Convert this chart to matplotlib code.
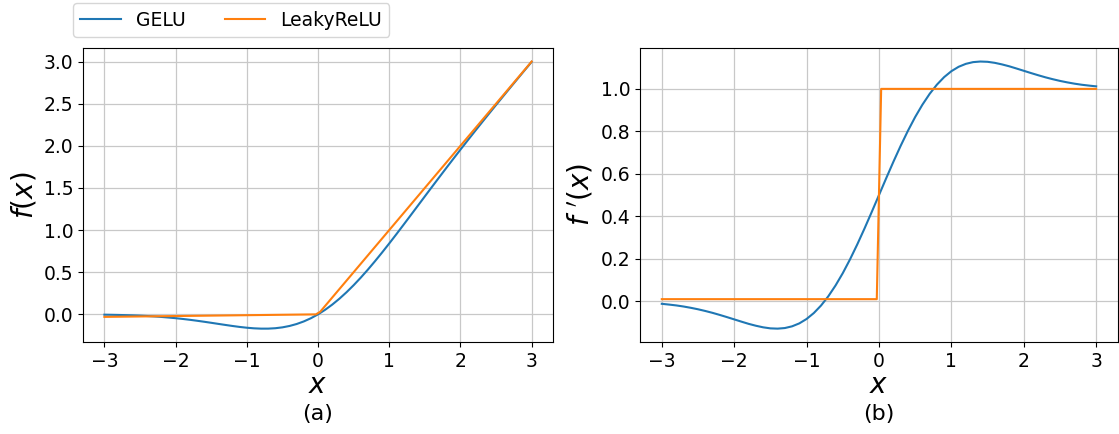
import matplotlib
matplotlib.use('Agg')
import matplotlib.pyplot as plt

# values
x_gelu = [-3.0, -2.9, -2.8, -2.7, -2.6, -2.5, -2.4, -2.3, -2.2, -2.1,
          -2.0, -1.9, -1.8, -1.7, -1.6, -1.5, -1.4, -1.3, -1.2, -1.1,
          -1.0, -0.9, -0.8, -0.7, -0.6, -0.5, -0.4, -0.3, -0.2, -0.1,
          0.0, 0.1, 0.2, 0.3, 0.4, 0.5, 0.6, 0.7, 0.8, 0.9,
          1.0, 1.1, 1.2, 1.3, 1.4, 1.5, 1.6, 1.7, 1.8, 1.9,
          2.0, 2.1, 2.2, 2.3, 2.4, 2.5, 2.6, 2.7, 2.8, 2.9, 3.0]
gelu = [-0.0040, -0.0055, -0.0072, -0.0095, -0.0122, -0.0155, -0.0197, -0.0246, -0.0306, -0.0376,
        -0.0455, -0.0545, -0.0646, -0.0758, -0.0877, -0.1002, -0.1131, -0.1258, -0.1381, -0.1493,
        -0.1587, -0.1657, -0.1695, -0.1694, -0.1646, -0.1543, -0.1378, -0.1146, -0.0841, -0.0460,
        0.0, 0.0540, 0.1159, 0.1854, 0.2622, 0.3457, 0.4354, 0.5306, 0.6305, 0.7343,
        0.8413, 0.9507, 1.0619, 1.1742, 1.2869, 1.3998, 1.5123, 1.6242, 1.7354, 1.8455,
        1.9545, 2.0624, 2.1694, 2.2754, 2.3803, 2.4845, 2.5878, 2.6906, 2.7927, 2.8945, 2.9960]
gelu_d = [-0.0119, -0.0155, -0.0195, -0.0246, -0.0307, -0.0376, -0.0456, -0.0544, -0.0642, -0.0745,
          -0.0852, -0.0959, -0.1063, -0.1152, -0.1226, -0.1275, -0.1288, -0.1260, -0.1179, -0.1040,
          -0.0833, -0.0554, -0.0199, 0.0234, 0.0744, 0.1324, 0.1973, 0.2677, 0.3425, 0.4205,
          0.5, 0.5795, 0.6575, 0.7323, 0.8027, 0.8676, 0.9256, 0.9766, 1.0199, 1.0554,
          1.0833, 1.1040, 1.1179, 1.1260, 1.1288, 1.1275, 1.1226, 1.1152, 1.1063, 1.0959,
          1.0852, 1.0745, 1.0642, 1.0544, 1.0456, 1.0376, 1.0307, 1.0246, 1.0195, 1.0155, 1.0119]

x_leaky = [-3.0, -0.0303, 0.0303, 3.0]
leaky = [-0.03, -0.0003, 0.0303, 3.0]
leaky_d = [0.01, 0.01, 1.0, 1.0]

fig = plt.figure(figsize=(11.19, 4.34), dpi=100)
ax1 = fig.add_axes([0.0742, 0.212, 0.420, 0.677])
ax2 = fig.add_axes([0.572, 0.212, 0.427, 0.677])

l1, = ax1.plot(x_gelu, gelu, color='tab:blue', lw=1.5, label='GELU')
l2, = ax1.plot(x_leaky, leaky, color='tab:orange', lw=1.5, label='LeakyReLU')
ax2.plot(x_gelu, gelu_d, color='tab:blue', lw=1.5)
ax2.plot(x_leaky, leaky_d, color='tab:orange', lw=1.5)

ax1.set_ylabel('$f(x)$', fontsize=20)
ax2.set_ylabel("$f\\ '(x)$", fontsize=20)

for ax, tag in [(ax1, '(a)'), (ax2, '(b)')]:
    ax.grid(True, color='#c8c8c8', lw=0.9)
    ax.tick_params(labelsize=13.5)
    ax.set_xticks([-3, -2, -1, 0, 1, 2, 3])
    ax.set_xlabel('$x$', fontsize=20, labelpad=0)
    ax.text(0.5, -0.21, tag, transform=ax.transAxes, ha='center', va='top', fontsize=16)

ax1.set_yticks([0.0, 0.5, 1.0, 1.5, 2.0, 2.5, 3.0])
ax2.set_yticks([0.0, 0.2, 0.4, 0.6, 0.8, 1.0])

fig.legend(handles=[l1, l2], loc='upper left', bbox_to_anchor=(0.0652, 0.993),
           borderaxespad=0, ncol=2, fontsize=13.5, handlelength=2.15, columnspacing=2.1)

plt.savefig('out.png', dpi=100)
